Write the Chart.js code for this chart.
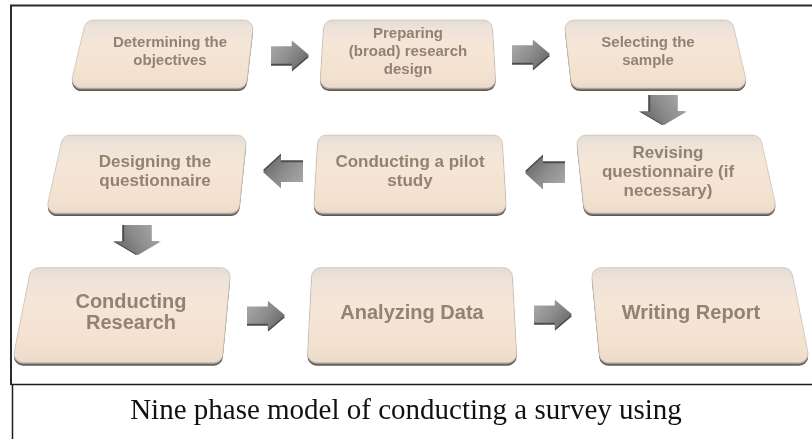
<!DOCTYPE html>
<html>
<head>
<meta charset="utf-8">
<script src="https://cdn.jsdelivr.net/npm/chart.js@4"></script>
<style>
  html, body { margin: 0; padding: 0; background: #fff; }
  #wrap { width: 812px; height: 439px; position: relative; }
</style>
</head>
<body>
<div id="wrap"><canvas id="flow"></canvas></div>
<script>
// the nine phases, in reading order of the picture
const boxLabels = [
    ["Determining the", "objectives"],
    ["Preparing", "(broad) research", "design"],
    ["Selecting the", "sample"],
    ["Revising", "questionnaire (if", "necessary)"],
    ["Conducting a pilot", "study"],
    ["Designing the", "questionnaire"],
    ["Conducting", "Research"],
    ["Analyzing Data"],
    ["Writing Report"]
];
const boxX = [170, 408, 648, 668, 410, 155, 131, 412, 691];
const boxY = [54, 54, 54, 174, 174, 174, 315, 315, 315];
const boxRow = [0, 0, 0, 1, 1, 1, 2, 2, 2];

// arrows between phases
const arrowX = [290, 531, 664, 545, 283, 138, 266, 553];
const arrowY = [55, 54, 110, 173, 172, 240, 315, 314];
const arrowDir = ['right', 'right', 'down', 'left', 'left', 'down', 'right', 'right'];

const captionText = 'Nine phase model of conducting a survey using';

// look of each row (sizes in px)
const rowStyle = [
    {w: 168, h: 68, font: 15, lh: 18},
    {w: 184, h: 78, font: 17, lh: 19},
    {w: 200, h: 95, font: 20, lh: 21}
];
const arrowSize = {right: [38, 29], left: [40, 33], down: [30, 46]};

function roundedPoly(ctx, pts, r){
    const n = pts.length;
    const last = pts[n - 1], first = pts[0];
    ctx.beginPath();
    ctx.moveTo((last.x + first.x) / 2, (last.y + first.y) / 2);
    for (let i = 0; i < n; i++){
        const p = pts[i], q = pts[(i + 1) % n];
        ctx.arcTo(p.x, p.y, q.x, q.y, r);
    }
    ctx.closePath();
}

function drawBox(ctx, cx, cy, vx, st, lines){
    const spread = 0.05;
    const top = cy - st.h / 2, bot = cy + st.h / 2;
    const xl = cx - st.w / 2, xr = cx + st.w / 2;
    const bl = vx + (xl - vx) * (1 + spread);
    const br = vx + (xr - vx) * (1 + spread);
    const pts = [{x: xl, y: top}, {x: xr, y: top}, {x: br, y: bot}, {x: bl, y: bot}];
    const shift = (o) => pts.map(p => ({x: p.x, y: p.y + o}));

    // dark bottom edge
    ctx.fillStyle = '#5d5852';
    roundedPoly(ctx, shift(3), 9);
    ctx.fill();
    ctx.fillStyle = '#9b928a';
    roundedPoly(ctx, shift(1.5), 9);
    ctx.fill();

    const g = ctx.createLinearGradient(0, top, 0, bot);
    g.addColorStop(0, '#e2dbd5');
    g.addColorStop(0.12, '#eee3d9');
    g.addColorStop(0.4, '#f6e6d6');
    g.addColorStop(0.85, '#f3e1cf');
    g.addColorStop(1, '#ebdacb');
    ctx.fillStyle = g;
    roundedPoly(ctx, pts, 9);
    ctx.fill();
    ctx.strokeStyle = 'rgba(200,190,182,0.7)';
    ctx.lineWidth = 1;
    ctx.stroke();

    ctx.fillStyle = '#928274';
    ctx.font = 'bold ' + st.font + 'px "Liberation Sans", Arial, sans-serif';
    ctx.textAlign = 'center';
    ctx.textBaseline = 'middle';
    const y0 = cy - 2 - (lines.length - 1) * st.lh / 2;
    lines.forEach((t, i) => ctx.fillText(t, cx, y0 + i * st.lh));
}

function drawArrow(ctx, cx, cy, dir){
    const [L, H] = arrowSize[dir];
    const head = L * 0.45, sh = H * 0.3, hh = H / 2;
    // local shape pointing to +x
    const shape = [
        [-L / 2, -sh], [L / 2 - head, -sh], [L / 2 - head, -hh], [L / 2, 0],
        [L / 2 - head, hh], [L / 2 - head, sh], [-L / 2, sh]
    ];
    const ang = {right: 0, left: Math.PI, down: Math.PI / 2}[dir];
    ctx.save();
    ctx.translate(cx, cy);
    ctx.rotate(ang);
    const path = (o) => {
        ctx.beginPath();
        shape.forEach((p, i) => i ? ctx.lineTo(p[0], p[1] + o) : ctx.moveTo(p[0], p[1] + o));
        ctx.closePath();
    };
    ctx.fillStyle = '#4c4c4c';
    path(2);
    ctx.fill();
    const g = ctx.createLinearGradient(-L / 2, -hh, L / 2, hh);
    g.addColorStop(0, '#adadad');
    g.addColorStop(0.5, '#8c8c8c');
    g.addColorStop(1, '#5e5e5e');
    ctx.fillStyle = g;
    path(0);
    ctx.fill();
    ctx.restore();
}

const flowPlugin = {
    id: 'flow',
    beforeDraw(chart){
        const ctx = chart.ctx;
        ctx.save();
        ctx.strokeStyle = '#2b2b2b';
        ctx.lineWidth = 2;
        ctx.beginPath();
        ctx.moveTo(11, 385);
        ctx.lineTo(11, 5.5);
        ctx.lineTo(812, 5.5);
        ctx.stroke();
        ctx.lineWidth = 1.5;
        ctx.strokeStyle = '#1e1e1e';
        ctx.beginPath();
        ctx.moveTo(11, 384.5);
        ctx.lineTo(812, 384.5);
        ctx.moveTo(12.5, 385);
        ctx.lineTo(12.5, 439);
        ctx.stroke();
        ctx.restore();
    },
    afterDatasetsDraw(chart){
        const ctx = chart.ctx;
        const vx = chart.scales.x.getPixelForValue(410);
        const boxes = chart.getDatasetMeta(0).data;
        const arrows = chart.getDatasetMeta(1).data;
        ctx.save();
        arrows.forEach((pt, i) => drawArrow(ctx, pt.x, pt.y, arrowDir[i]));
        boxes.forEach((pt, i) => drawBox(ctx, pt.x, pt.y, vx, rowStyle[boxRow[i]], boxLabels[i]));
        ctx.restore();
    }
};

new Chart(document.getElementById('flow'), {
    type: 'scatter',
    data: {
        datasets: [
            {label: 'phases', data: boxX.map((x, i) => ({x: x, y: boxY[i]})), pointRadius: 0},
            {label: 'arrows', data: arrowX.map((x, i) => ({x: x, y: arrowY[i]})), pointRadius: 0}
        ]
    },
    options: {
        responsive: true,
        maintainAspectRatio: false,
        animation: false,
        layout: {padding: 0},
        events: [],
        plugins: {
            legend: {display: false},
            tooltip: {enabled: false},
            title: {
                display: true,
                position: 'bottom',
                text: captionText,
                color: '#111',
                font: {family: '"Liberation Serif", "Times New Roman", serif', size: 29, weight: 'normal'},
                padding: {top: 9, bottom: 10}
            }
        },
        scales: {
            x: {type: 'linear', min: 0, max: 812, display: false},
            y: {type: 'linear', min: 0, max: 385, reverse: true, display: false}
        }
    },
    plugins: [flowPlugin]
});
</script>
</body>
</html>
